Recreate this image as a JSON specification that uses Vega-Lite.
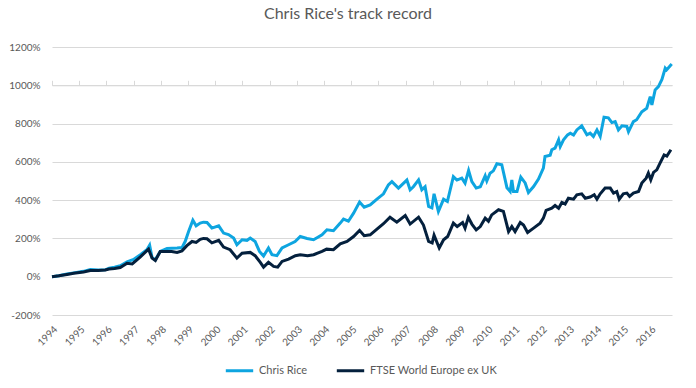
{
  "$schema": "https://vega.github.io/schema/vega-lite/v6.json",
  "width": 620,
  "height": 268,
  "autosize": {"type": "none"},
  "padding": {"left": 52, "top": 47, "right": 24, "bottom": 73},
  "background": "white",
  "title": {"text": "Chris Rice's track record", "fontSize": 16, "font": "Lato", "fontWeight": "normal", "color": "#595959", "offset": 20, "dx": -14},
  "config": {"view": {"stroke": null}, "font": "Lato", "axis": {"labelOverlap": false}, "axisY": {"labelOverlap": false}},
  "datasets": {
    "cr": [
      {"t": 1994.0, "v": 0}, {"t": 1994.25, "v": 5}, {"t": 1994.55, "v": 14}, {"t": 1994.8, "v": 20},
      {"t": 1995.16, "v": 28}, {"t": 1995.41, "v": 38}, {"t": 1995.7, "v": 35}, {"t": 1995.96, "v": 36},
      {"t": 1996.1, "v": 45}, {"t": 1996.3, "v": 50}, {"t": 1996.51, "v": 57}, {"t": 1996.76, "v": 78},
      {"t": 1997.0, "v": 90}, {"t": 1997.25, "v": 115}, {"t": 1997.49, "v": 141}, {"t": 1997.59, "v": 165},
      {"t": 1997.68, "v": 100}, {"t": 1997.8, "v": 88}, {"t": 1997.98, "v": 132}, {"t": 1998.23, "v": 148},
      {"t": 1998.6, "v": 150}, {"t": 1998.78, "v": 152}, {"t": 1998.9, "v": 185}, {"t": 1999.02, "v": 235},
      {"t": 1999.18, "v": 295}, {"t": 1999.3, "v": 266}, {"t": 1999.45, "v": 280}, {"t": 1999.57, "v": 285},
      {"t": 1999.7, "v": 283}, {"t": 1999.88, "v": 254}, {"t": 2000.13, "v": 266}, {"t": 2000.31, "v": 228},
      {"t": 2000.49, "v": 220}, {"t": 2000.68, "v": 202}, {"t": 2000.8, "v": 167}, {"t": 2000.99, "v": 193},
      {"t": 2001.17, "v": 190}, {"t": 2001.29, "v": 202}, {"t": 2001.47, "v": 184}, {"t": 2001.63, "v": 132},
      {"t": 2001.78, "v": 108}, {"t": 2001.96, "v": 150}, {"t": 2002.09, "v": 115}, {"t": 2002.27, "v": 110},
      {"t": 2002.46, "v": 150}, {"t": 2002.7, "v": 167}, {"t": 2002.94, "v": 184}, {"t": 2003.13, "v": 210},
      {"t": 2003.38, "v": 200}, {"t": 2003.62, "v": 193}, {"t": 2003.93, "v": 219}, {"t": 2004.11, "v": 245},
      {"t": 2004.35, "v": 240}, {"t": 2004.6, "v": 280}, {"t": 2004.72, "v": 301}, {"t": 2004.9, "v": 290},
      {"t": 2005.09, "v": 332}, {"t": 2005.31, "v": 390}, {"t": 2005.48, "v": 363}, {"t": 2005.7, "v": 375},
      {"t": 2005.95, "v": 405}, {"t": 2006.19, "v": 433}, {"t": 2006.37, "v": 480}, {"t": 2006.5, "v": 497},
      {"t": 2006.74, "v": 463}, {"t": 2006.99, "v": 497}, {"t": 2007.05, "v": 505}, {"t": 2007.17, "v": 454},
      {"t": 2007.29, "v": 470}, {"t": 2007.48, "v": 506}, {"t": 2007.6, "v": 454}, {"t": 2007.72, "v": 470},
      {"t": 2007.85, "v": 367}, {"t": 2007.97, "v": 360}, {"t": 2008.05, "v": 433}, {"t": 2008.21, "v": 341},
      {"t": 2008.4, "v": 405}, {"t": 2008.54, "v": 393}, {"t": 2008.76, "v": 523}, {"t": 2008.89, "v": 505},
      {"t": 2009.07, "v": 515}, {"t": 2009.19, "v": 489}, {"t": 2009.32, "v": 555}, {"t": 2009.44, "v": 497},
      {"t": 2009.6, "v": 463}, {"t": 2009.75, "v": 470}, {"t": 2009.93, "v": 527}, {"t": 2009.99, "v": 500},
      {"t": 2010.11, "v": 541}, {"t": 2010.23, "v": 553}, {"t": 2010.36, "v": 590}, {"t": 2010.54, "v": 585},
      {"t": 2010.73, "v": 465}, {"t": 2010.85, "v": 445}, {"t": 2010.91, "v": 506}, {"t": 2010.97, "v": 445},
      {"t": 2011.1, "v": 445}, {"t": 2011.24, "v": 520}, {"t": 2011.4, "v": 490}, {"t": 2011.52, "v": 440},
      {"t": 2011.71, "v": 471}, {"t": 2011.89, "v": 510}, {"t": 2012.07, "v": 567}, {"t": 2012.13, "v": 628},
      {"t": 2012.32, "v": 635}, {"t": 2012.38, "v": 663}, {"t": 2012.5, "v": 672}, {"t": 2012.63, "v": 715},
      {"t": 2012.69, "v": 680}, {"t": 2012.81, "v": 715}, {"t": 2012.96, "v": 741}, {"t": 2013.06, "v": 750},
      {"t": 2013.18, "v": 740}, {"t": 2013.3, "v": 767}, {"t": 2013.48, "v": 788}, {"t": 2013.67, "v": 741},
      {"t": 2013.79, "v": 750}, {"t": 2013.91, "v": 733}, {"t": 2014.04, "v": 767}, {"t": 2014.16, "v": 733},
      {"t": 2014.3, "v": 833}, {"t": 2014.46, "v": 830}, {"t": 2014.59, "v": 805}, {"t": 2014.71, "v": 810},
      {"t": 2014.83, "v": 767}, {"t": 2014.96, "v": 788}, {"t": 2015.14, "v": 785}, {"t": 2015.2, "v": 758},
      {"t": 2015.38, "v": 810}, {"t": 2015.5, "v": 820}, {"t": 2015.69, "v": 862}, {"t": 2015.87, "v": 880},
      {"t": 2016.0, "v": 941}, {"t": 2016.06, "v": 897}, {"t": 2016.18, "v": 976}, {"t": 2016.3, "v": 993},
      {"t": 2016.43, "v": 1031}, {"t": 2016.55, "v": 1089}, {"t": 2016.6, "v": 1080}, {"t": 2016.79, "v": 1111}
    ],
    "ft": [
      {"t": 1994.0, "v": 0}, {"t": 1994.25, "v": 5}, {"t": 1994.55, "v": 12}, {"t": 1994.8, "v": 18},
      {"t": 1995.16, "v": 25}, {"t": 1995.41, "v": 32}, {"t": 1995.7, "v": 33}, {"t": 1995.96, "v": 35},
      {"t": 1996.1, "v": 40}, {"t": 1996.3, "v": 43}, {"t": 1996.51, "v": 48}, {"t": 1996.76, "v": 70},
      {"t": 1996.95, "v": 67}, {"t": 1997.25, "v": 104}, {"t": 1997.55, "v": 144}, {"t": 1997.68, "v": 97},
      {"t": 1997.8, "v": 85}, {"t": 1997.98, "v": 132}, {"t": 1998.4, "v": 132}, {"t": 1998.6, "v": 127},
      {"t": 1998.78, "v": 135}, {"t": 1998.96, "v": 162}, {"t": 1999.15, "v": 184}, {"t": 1999.3, "v": 179},
      {"t": 1999.45, "v": 195}, {"t": 1999.57, "v": 200}, {"t": 1999.7, "v": 198}, {"t": 1999.88, "v": 177},
      {"t": 2000.13, "v": 190}, {"t": 2000.31, "v": 155}, {"t": 2000.55, "v": 141}, {"t": 2000.8, "v": 97},
      {"t": 2000.99, "v": 123}, {"t": 2001.29, "v": 127}, {"t": 2001.47, "v": 110}, {"t": 2001.66, "v": 75},
      {"t": 2001.78, "v": 50}, {"t": 2001.96, "v": 75}, {"t": 2002.15, "v": 54}, {"t": 2002.3, "v": 50},
      {"t": 2002.46, "v": 80}, {"t": 2002.7, "v": 92}, {"t": 2002.95, "v": 110}, {"t": 2003.13, "v": 115},
      {"t": 2003.4, "v": 110}, {"t": 2003.62, "v": 115}, {"t": 2003.93, "v": 132}, {"t": 2004.1, "v": 144},
      {"t": 2004.35, "v": 141}, {"t": 2004.6, "v": 172}, {"t": 2004.85, "v": 184}, {"t": 2005.09, "v": 210},
      {"t": 2005.31, "v": 242}, {"t": 2005.48, "v": 214}, {"t": 2005.7, "v": 219}, {"t": 2005.95, "v": 249},
      {"t": 2006.19, "v": 277}, {"t": 2006.43, "v": 311}, {"t": 2006.68, "v": 285}, {"t": 2006.99, "v": 320},
      {"t": 2007.17, "v": 275}, {"t": 2007.48, "v": 311}, {"t": 2007.66, "v": 270}, {"t": 2007.85, "v": 184},
      {"t": 2007.98, "v": 176}, {"t": 2008.05, "v": 217}, {"t": 2008.24, "v": 150}, {"t": 2008.4, "v": 193},
      {"t": 2008.55, "v": 210}, {"t": 2008.76, "v": 280}, {"t": 2008.9, "v": 262}, {"t": 2009.1, "v": 283},
      {"t": 2009.19, "v": 254}, {"t": 2009.31, "v": 310}, {"t": 2009.44, "v": 275}, {"t": 2009.6, "v": 245},
      {"t": 2009.75, "v": 262}, {"t": 2009.93, "v": 306}, {"t": 2010.05, "v": 290}, {"t": 2010.17, "v": 323},
      {"t": 2010.42, "v": 350}, {"t": 2010.6, "v": 341}, {"t": 2010.79, "v": 236}, {"t": 2010.91, "v": 262},
      {"t": 2011.03, "v": 236}, {"t": 2011.22, "v": 283}, {"t": 2011.34, "v": 270}, {"t": 2011.49, "v": 231},
      {"t": 2011.71, "v": 254}, {"t": 2011.95, "v": 280}, {"t": 2012.07, "v": 306}, {"t": 2012.17, "v": 346},
      {"t": 2012.38, "v": 358}, {"t": 2012.5, "v": 372}, {"t": 2012.63, "v": 358}, {"t": 2012.75, "v": 388},
      {"t": 2012.87, "v": 380}, {"t": 2012.99, "v": 410}, {"t": 2013.18, "v": 405}, {"t": 2013.3, "v": 428},
      {"t": 2013.48, "v": 433}, {"t": 2013.61, "v": 410}, {"t": 2013.79, "v": 416}, {"t": 2013.94, "v": 428},
      {"t": 2014.04, "v": 405}, {"t": 2014.16, "v": 433}, {"t": 2014.34, "v": 463}, {"t": 2014.53, "v": 463},
      {"t": 2014.65, "v": 437}, {"t": 2014.77, "v": 445}, {"t": 2014.86, "v": 405}, {"t": 2015.01, "v": 433},
      {"t": 2015.14, "v": 437}, {"t": 2015.24, "v": 420}, {"t": 2015.38, "v": 437}, {"t": 2015.57, "v": 445},
      {"t": 2015.69, "v": 489}, {"t": 2015.85, "v": 515}, {"t": 2015.93, "v": 541}, {"t": 2016.02, "v": 506},
      {"t": 2016.12, "v": 545}, {"t": 2016.24, "v": 558}, {"t": 2016.36, "v": 593}, {"t": 2016.51, "v": 636},
      {"t": 2016.61, "v": 630}, {"t": 2016.76, "v": 663}
    ]
  },
  "layer": [
    {
      "data": {"name": "cr"},
      "mark": {"type": "line", "strokeWidth": 3},
      "encoding": {
        "x": {
          "field": "t", "type": "quantitative",
          "scale": {"domain": [1994, 2016.8], "nice": false, "zero": false},
          "axis": {
            "values": [1994, 1995, 1996, 1997, 1998, 1999, 2000, 2001, 2002, 2003, 2004, 2005, 2006, 2007, 2008, 2009, 2010, 2011, 2012, 2013, 2014, 2015, 2016],
            "format": "d", "labelAngle": -45, "labelFontSize": 10, "labelColor": "#595959",
            "grid": false, "domain": false, "ticks": false, "labelPadding": 9, "title": null,
            "labelFlush": false, "labelOverlap": false
          }
        },
        "y": {
          "field": "v", "type": "quantitative",
          "scale": {"domain": [-200, 1200], "nice": false, "zero": false},
          "axis": {
            "values": [-200, 0, 200, 400, 600, 800, 1000, 1200],
            "labelExpr": "datum.value + '%'", "gridColor": "#d9d9d9", "domain": false, "ticks": false,
            "labelPadding": 12, "labelColor": "#595959", "labelFontSize": 10, "title": null,
            "labelOverlap": false, "labelFlush": false
          }
        },
        "color": {
          "datum": "Chris Rice", "type": "nominal",
          "scale": {"domain": ["Chris Rice", "FTSE World Europe ex UK"], "range": ["#0ea5e0", "#04203d"]},
          "legend": {
            "title": null, "orient": "none", "legendX": 172, "legendY": 308, "direction": "horizontal", "symbolType": "stroke",
            "symbolStrokeWidth": 3, "symbolSize": 750, "labelFontSize": 11, "labelColor": "#595959",
            "columnPadding": 22, "padding": 0
          }
        }
      }
    },
    {
      "data": {"name": "ft"},
      "mark": {"type": "line", "strokeWidth": 3},
      "encoding": {
        "x": {
          "field": "t", "type": "quantitative",
          "axis": {
            "values": [1994, 1995, 1996, 1997, 1998, 1999, 2000, 2001, 2002, 2003, 2004, 2005, 2006, 2007, 2008, 2009, 2010, 2011, 2012, 2013, 2014, 2015, 2016],
            "labels": false, "domain": true, "domainColor": "#d9d9d9", "ticks": true, "tickColor": "#d9d9d9",
            "tickSize": 5, "offset": -38.3, "grid": false, "title": null
          }
        },
        "y": {
          "field": "v", "type": "quantitative",
          "axis": {
            "values": [-200, 0, 200, 400, 600, 800, 1000, 1200],
            "labelExpr": "datum.value + '%'", "gridColor": "#d9d9d9", "domain": false, "ticks": false,
            "labelPadding": 12, "labelColor": "#595959", "labelFontSize": 10, "title": null,
            "labelOverlap": false, "labelFlush": false
          }
        },
        "color": {"datum": "FTSE World Europe ex UK", "type": "nominal"}
      }
    }
  ],
  "resolve": {"axis": {"x": "independent"}}
}
